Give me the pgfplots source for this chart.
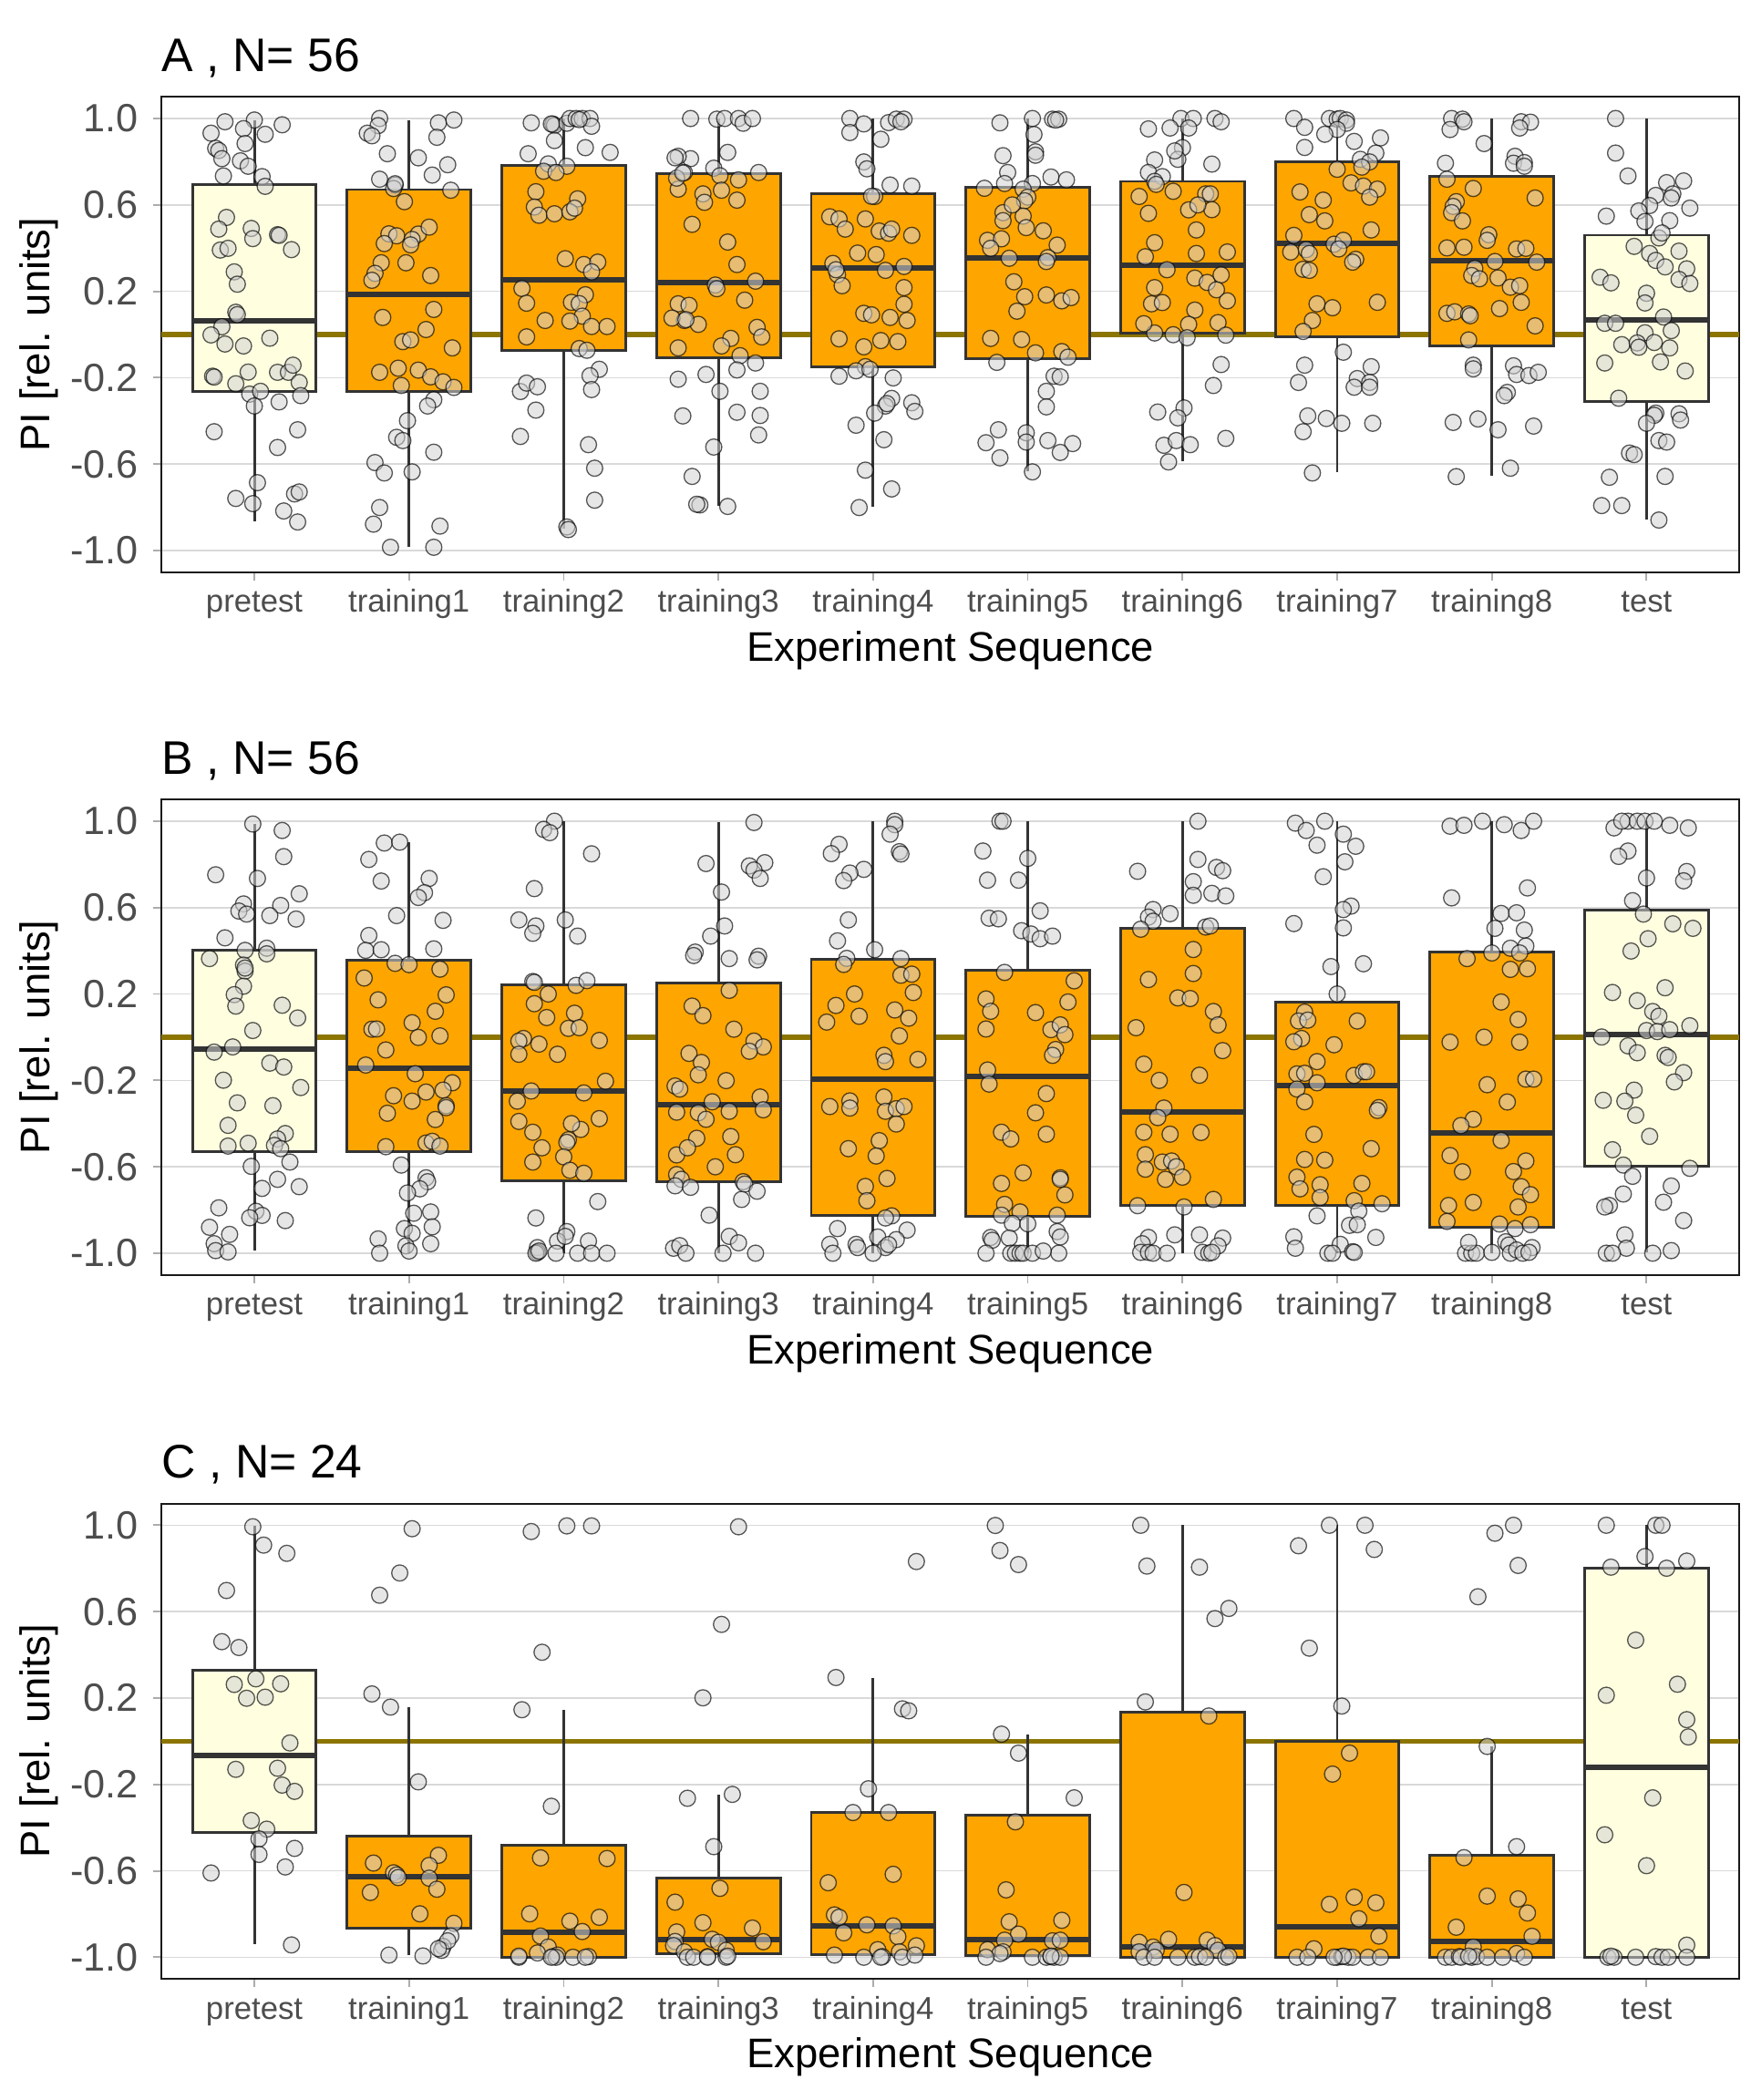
\documentclass[border=0pt]{standalone}
\usepackage{pgfplots}
\pgfplotsset{compat=1.18}
\usepackage{pgfplotstable}
\usepgfplotslibrary{statistics}
\usepackage{fontspec}
\setmainfont{Liberation Sans}
\definecolor{boxedge}{HTML}{333333}
\definecolor{ptfill}{RGB}{210,210,210}
\definecolor{trainc}{HTML}{FFA500}
\definecolor{prec}{HTML}{FFFFE0}
\definecolor{olivec}{RGB}{139,117,0}
\definecolor{tickc}{HTML}{4D4D4D}

\pgfplotstableread{
x y
-0.19 0.985
0.00 0.993
0.18 0.971
-0.28 0.932
-0.07 0.953
0.07 0.927
-0.06 0.884
-0.25 0.862
-0.23 0.852
-0.21 0.814
-0.09 0.804
-0.04 0.779
-0.20 0.734
0.05 0.731
0.07 0.686
-0.18 0.542
-0.23 0.488
-0.02 0.491
-0.01 0.444
0.15 0.462
0.16 0.459
0.24 0.393
-0.22 0.391
-0.17 0.399
-0.13 0.290
-0.11 0.233
-0.12 0.103
-0.11 0.092
-0.21 0.036
-0.28 -0.002
-0.19 -0.044
-0.07 -0.053
0.10 -0.017
-0.27 -0.193
-0.26 -0.197
-0.04 -0.174
-0.12 -0.228
0.15 -0.175
0.22 -0.175
0.25 -0.142
0.29 -0.222
-0.03 -0.276
0.04 -0.263
0.00 -0.331
0.16 -0.312
0.30 -0.283
-0.26 -0.450
0.28 -0.441
0.15 -0.523
0.02 -0.686
-0.12 -0.759
-0.01 -0.783
0.19 -0.817
0.26 -0.738
0.29 -0.729
0.28 -0.868
0.81 1.000
0.80 0.967
0.73 0.932
0.76 0.920
1.19 0.980
1.29 0.993
1.18 0.913
0.86 0.837
1.06 0.818
1.25 0.786
1.15 0.738
0.81 0.719
0.91 0.692
0.90 0.676
1.27 0.668
0.97 0.615
0.87 0.466
0.92 0.457
0.84 0.421
1.06 0.465
1.13 0.497
1.02 0.440
1.01 0.415
0.82 0.332
0.78 0.283
0.76 0.251
0.98 0.332
1.14 0.273
0.83 0.079
1.16 0.116
1.11 0.023
0.96 -0.033
1.01 -0.025
1.28 -0.062
0.81 -0.175
0.93 -0.156
1.06 -0.165
1.14 -0.196
1.22 -0.219
1.29 -0.245
0.95 -0.236
1.16 -0.302
1.12 -0.331
0.99 -0.399
0.92 -0.476
0.96 -0.491
1.16 -0.545
0.78 -0.593
0.84 -0.641
1.02 -0.636
0.81 -0.801
0.77 -0.878
1.20 -0.887
0.88 -0.985
1.16 -0.985
0.91 0.698
1.79 0.980
1.93 0.974
1.94 0.968
2.02 0.978
2.04 1.000
2.08 1.000
2.12 1.000
2.17 1.000
2.18 0.964
1.94 0.898
2.14 0.865
2.30 0.843
1.77 0.837
1.90 0.790
2.02 0.779
1.87 0.756
1.95 0.750
1.82 0.661
2.09 0.628
1.81 0.590
1.84 0.552
1.94 0.559
2.04 0.568
2.07 0.585
2.01 0.351
2.13 0.324
2.22 0.335
2.18 0.290
1.73 0.213
1.76 0.145
2.14 0.184
2.05 0.149
2.10 0.143
2.12 0.085
2.04 0.062
1.88 0.065
2.18 0.037
2.28 0.037
1.76 -0.011
2.10 -0.065
2.15 -0.073
2.23 -0.161
2.17 -0.191
2.18 -0.255
1.72 -0.264
1.76 -0.225
1.83 -0.242
1.82 -0.350
1.72 -0.472
2.16 -0.510
2.20 -0.619
2.20 -0.767
2.02 -0.891
2.03 -0.903
2.10 0.995
1.92 0.975
2.82 1.000
2.99 0.997
3.04 1.000
3.13 1.000
3.16 0.978
3.22 1.000
3.06 0.843
2.82 0.814
2.74 0.825
2.97 0.770
2.78 0.750
3.26 0.750
3.01 0.735
3.13 0.716
2.74 0.673
2.90 0.651
3.02 0.668
2.91 0.612
3.12 0.622
2.83 0.510
3.06 0.428
3.12 0.324
2.98 0.229
2.99 0.212
3.24 0.247
2.74 0.142
2.81 0.135
3.17 0.159
2.78 0.065
2.87 0.047
3.25 0.033
3.28 -0.011
3.08 -0.018
3.02 -0.053
2.74 -0.062
3.14 -0.098
3.12 -0.164
3.24 -0.132
2.92 -0.185
2.74 -0.207
3.01 -0.263
3.27 -0.263
3.12 -0.360
3.27 -0.375
2.77 -0.377
3.26 -0.465
2.97 -0.521
2.83 -0.657
2.88 -0.789
3.06 -0.796
2.73 0.724
2.70 0.076
2.79 0.069
2.77 0.748
2.86 -0.786
2.72 0.818
3.85 1.000
3.85 0.935
3.94 0.975
4.10 0.981
4.15 0.997
4.20 0.997
4.18 0.985
4.05 0.904
3.94 0.799
3.96 0.767
4.11 0.692
4.25 0.687
4.01 0.639
3.72 0.545
3.78 0.535
3.82 0.488
3.95 0.535
4.04 0.479
4.10 0.469
4.12 0.488
4.25 0.459
3.90 0.377
4.02 0.370
3.74 0.329
3.77 0.277
4.08 0.297
4.20 0.315
3.80 0.226
4.20 0.217
4.20 0.140
3.94 0.098
3.99 0.091
4.11 0.079
4.22 0.065
3.78 -0.020
3.94 -0.057
4.05 -0.028
4.16 -0.033
3.95 -0.149
3.89 -0.168
3.98 -0.161
3.78 -0.193
4.13 -0.201
4.12 -0.296
4.08 -0.331
4.25 -0.316
4.27 -0.356
4.01 -0.364
3.89 -0.420
4.07 -0.487
3.95 -0.628
4.12 -0.715
3.91 -0.801
3.99 0.640
4.09 -0.320
3.76 0.300
4.82 0.980
5.03 1.000
5.16 0.997
5.20 0.997
5.18 0.993
5.04 0.926
5.05 0.846
5.05 0.830
4.84 0.828
4.87 0.750
5.15 0.729
5.25 0.716
4.72 0.677
4.85 0.699
5.03 0.699
4.97 0.673
5.00 0.636
4.98 0.619
4.84 0.564
4.97 0.548
4.84 0.527
4.99 0.495
4.74 0.436
4.83 0.443
4.76 0.399
5.19 0.414
4.88 0.353
5.13 0.356
5.12 0.338
4.91 0.244
4.98 0.175
5.12 0.183
5.22 0.156
5.28 0.171
4.93 0.108
4.76 -0.018
4.96 -0.023
5.05 -0.085
5.22 -0.079
5.26 -0.105
4.80 -0.129
5.17 -0.193
5.21 -0.196
5.12 -0.263
5.12 -0.335
4.81 -0.441
4.99 -0.455
4.73 -0.501
4.99 -0.498
5.13 -0.491
5.29 -0.505
5.21 -0.546
4.82 -0.571
5.03 -0.636
4.90 0.600
5.10 0.480
5.99 1.000
6.07 1.000
6.04 0.956
5.92 0.956
5.78 0.952
6.00 0.865
5.97 0.811
5.82 0.808
5.78 0.750
5.87 0.731
5.82 0.709
5.83 0.695
5.94 0.663
5.72 0.639
6.15 0.651
5.78 0.561
6.04 0.577
6.09 0.484
5.82 0.425
6.09 0.375
5.76 0.360
6.08 0.261
6.16 0.241
5.82 0.217
5.80 0.142
5.87 0.148
6.08 0.113
6.04 0.047
5.82 0.007
5.94 -0.001
6.03 -0.015
5.84 -0.359
6.01 -0.340
5.97 -0.386
5.88 -0.513
5.96 -0.491
6.05 -0.510
5.91 -0.590
6.21 1.000
6.25 0.985
6.19 0.789
6.18 0.651
6.19 0.578
6.29 0.382
6.25 0.276
6.22 0.207
6.29 0.156
6.23 0.055
6.28 -0.003
6.25 -0.139
6.20 -0.236
6.28 -0.481
5.90 0.300
6.10 0.600
5.75 0.050
5.95 0.850
6.72 1.000
6.79 0.959
6.95 1.000
7.00 0.997
7.02 1.000
7.06 0.993
7.06 0.978
7.00 0.949
6.92 0.927
7.11 0.894
7.28 0.910
6.79 0.866
7.25 0.840
7.15 0.811
7.21 0.799
7.16 0.775
7.00 0.765
7.09 0.702
7.17 0.687
7.26 0.673
7.21 0.636
6.76 0.660
6.91 0.622
6.82 0.555
6.92 0.526
7.22 0.484
6.72 0.459
6.98 0.418
7.04 0.436
7.01 0.396
6.80 0.393
6.70 0.382
6.82 0.375
7.12 0.348
7.10 0.335
6.78 0.302
6.82 0.297
7.26 0.149
6.87 0.142
6.97 0.124
6.84 0.065
6.78 0.014
7.04 -0.082
6.79 -0.142
7.22 -0.149
6.75 -0.222
7.13 -0.204
7.11 -0.244
7.21 -0.222
7.21 -0.244
6.81 -0.377
6.78 -0.450
6.93 -0.389
7.03 -0.411
7.23 -0.411
6.84 -0.641
7.74 1.000
7.81 0.997
7.82 0.985
7.73 0.949
8.19 0.985
8.25 0.983
8.18 0.956
7.95 0.884
7.70 0.793
8.15 0.825
8.14 0.793
8.21 0.796
8.21 0.779
7.71 0.719
7.88 0.676
8.28 0.632
7.77 0.615
7.75 0.593
7.74 0.564
7.81 0.526
7.98 0.462
7.97 0.436
7.71 0.401
7.82 0.404
8.16 0.396
8.22 0.399
8.02 0.338
8.29 0.335
7.89 0.306
7.87 0.273
7.92 0.258
8.04 0.262
8.12 0.219
8.18 0.226
8.19 0.149
7.71 0.098
7.76 0.105
7.85 0.095
7.86 0.087
8.28 0.040
7.85 -0.025
7.88 -0.142
7.88 -0.159
8.14 -0.145
8.16 -0.185
8.24 -0.190
8.30 -0.175
8.10 -0.268
8.08 -0.283
7.75 -0.407
7.91 -0.391
8.04 -0.441
8.27 -0.424
8.12 -0.619
7.77 -0.658
8.05 0.120
8.80 1.000
8.80 0.840
8.88 0.734
9.13 0.703
9.24 0.711
9.06 0.644
9.17 0.651
9.16 0.632
9.02 0.597
8.95 0.572
9.28 0.585
8.74 0.548
8.99 0.523
9.15 0.527
9.08 0.447
8.92 0.408
9.02 0.375
9.06 0.343
9.21 0.386
9.12 0.313
9.26 0.304
9.21 0.255
9.28 0.236
8.70 0.265
8.77 0.239
9.00 0.191
8.99 0.146
8.73 0.052
8.80 0.052
9.11 0.081
9.16 0.018
8.99 0.008
8.84 -0.047
8.94 -0.039
8.95 -0.059
9.05 -0.037
9.15 -0.062
9.09 -0.127
8.73 -0.132
9.25 -0.169
8.82 -0.295
9.06 -0.364
9.05 -0.374
9.00 -0.411
9.21 -0.367
9.22 -0.396
9.08 -0.491
9.13 -0.498
8.89 -0.549
8.92 -0.556
8.76 -0.661
9.12 -0.657
8.71 -0.792
8.84 -0.792
9.08 -0.859
9.10 0.470
}\ptsA

\pgfplotstableread{
x y
-0.01 0.987
0.18 0.957
0.19 0.836
-0.25 0.752
0.02 0.735
0.29 0.664
-0.07 0.617
-0.10 0.584
-0.05 0.570
0.17 0.610
0.10 0.563
0.27 0.547
-0.19 0.460
0.08 0.412
0.08 0.386
-0.06 0.402
-0.29 0.364
-0.07 0.334
-0.06 0.306
-0.07 0.236
-0.13 0.197
-0.12 0.144
0.18 0.148
0.28 0.089
-0.01 0.031
-0.14 -0.045
-0.26 -0.069
0.10 -0.120
0.19 -0.138
-0.20 -0.199
0.30 -0.233
-0.11 -0.304
0.12 -0.317
-0.17 -0.408
0.20 -0.446
0.15 -0.471
0.13 -0.501
0.17 -0.516
-0.17 -0.504
-0.04 -0.491
0.23 -0.578
-0.02 -0.598
0.15 -0.658
0.29 -0.692
-0.23 -0.790
0.01 -0.806
0.05 -0.825
-0.03 -0.836
0.20 -0.849
-0.29 -0.880
-0.16 -0.913
-0.26 -0.956
-0.25 -0.988
-0.17 -0.994
-0.06 0.320
0.05 -0.700
0.84 0.899
0.94 0.903
0.74 0.823
0.82 0.723
1.13 0.735
1.10 0.669
1.06 0.647
0.92 0.563
1.22 0.541
0.74 0.471
0.72 0.402
0.82 0.405
1.16 0.409
0.91 0.342
1.00 0.336
1.20 0.315
0.71 0.274
0.80 0.173
1.24 0.196
1.17 0.120
1.02 0.067
0.76 0.037
0.79 0.038
1.06 -0.001
1.20 0.006
0.85 -0.059
0.72 -0.129
1.04 -0.169
1.28 -0.211
0.90 -0.271
1.11 -0.254
1.22 -0.245
1.02 -0.296
1.24 -0.317
1.24 -0.326
0.86 -0.352
1.17 -0.381
0.85 -0.507
1.11 -0.490
1.15 -0.482
1.20 -0.504
0.95 -0.592
1.11 -0.651
1.12 -0.669
1.07 -0.702
0.99 -0.721
1.03 -0.815
1.14 -0.809
1.15 -0.878
0.97 -0.886
1.02 -0.908
0.80 -0.934
1.14 -0.956
0.98 -0.966
0.81 -1.000
1.00 -0.990
1.94 1.000
1.87 0.962
1.91 0.947
2.18 0.849
1.81 0.688
1.71 0.543
1.82 0.515
1.80 0.481
2.01 0.543
2.09 0.468
1.80 0.258
1.81 0.254
2.08 0.240
2.15 0.262
1.81 0.155
1.89 0.091
2.07 0.111
2.03 0.041
2.10 0.044
1.74 -0.006
1.71 -0.018
1.84 -0.032
2.23 -0.015
1.71 -0.079
1.96 -0.079
2.27 -0.204
1.79 -0.249
2.13 -0.258
1.70 -0.296
1.71 -0.390
2.23 -0.377
1.80 -0.440
2.11 -0.427
2.03 -0.475
2.02 -0.487
1.86 -0.512
2.00 -0.554
1.80 -0.578
2.04 -0.616
2.13 -0.630
2.22 -0.761
1.82 -0.837
2.02 -0.900
1.96 -0.944
2.01 -0.922
2.16 -0.944
1.83 -0.974
1.83 -0.996
1.82 -1.000
1.95 -1.000
2.09 -1.000
2.18 -1.000
2.28 -1.000
1.84 -0.990
2.05 -0.400
1.90 0.200
2.72 -0.226
2.73 -0.347
2.73 -0.545
2.73 -0.636
2.76 -0.658
2.72 -0.688
2.82 -0.695
2.71 -0.977
2.75 -0.965
3.23 0.994
2.92 0.804
3.20 0.793
3.30 0.808
3.23 0.774
3.27 0.735
3.02 0.672
3.04 0.515
2.95 0.468
2.85 0.394
2.84 0.378
3.07 0.364
3.26 0.375
3.25 0.358
3.07 0.217
2.83 0.144
3.10 0.037
3.23 -0.018
3.29 -0.045
3.20 -0.065
2.81 -0.075
2.89 -0.117
2.87 -0.174
3.05 -0.201
2.75 -0.240
3.27 -0.277
2.96 -0.299
3.07 -0.343
3.29 -0.336
2.87 -0.350
2.92 -0.380
3.08 -0.460
2.86 -0.468
2.80 -0.512
3.11 -0.544
3.16 -0.669
3.17 -0.680
3.25 -0.713
3.15 -0.751
2.94 -0.824
3.07 -0.922
3.13 -0.952
3.03 -1.000
3.24 -1.000
2.79 -1.000
2.90 0.100
2.98 -0.600
4.14 1.000
4.14 0.984
4.11 0.940
4.17 0.859
4.18 0.848
3.78 0.893
3.73 0.850
3.94 0.777
3.85 0.760
3.81 0.725
3.84 0.543
3.77 0.446
4.01 0.405
3.83 0.365
3.81 0.337
4.18 0.364
4.18 0.287
4.25 0.292
4.26 0.207
3.76 0.147
3.91 0.097
3.70 0.070
4.14 0.126
4.23 0.088
4.17 0.006
4.07 -0.084
4.08 -0.113
4.29 -0.103
3.72 -0.321
3.85 -0.295
3.85 -0.328
4.07 -0.277
4.08 -0.343
4.15 -0.331
4.20 -0.321
4.15 -0.402
4.04 -0.479
3.84 -0.516
4.09 -0.654
3.95 -0.691
3.96 -0.757
4.12 -0.827
4.08 -0.837
3.77 -0.886
4.22 -0.893
4.03 -0.925
4.15 -0.937
3.72 -0.959
3.89 -0.959
3.90 -0.974
4.08 -0.974
3.74 -1.000
4.00 -1.000
4.10 -0.960
3.88 0.200
4.02 -0.550
4.82 1.000
4.84 1.000
4.71 0.862
5.00 0.828
4.74 0.727
4.94 0.727
5.08 0.585
4.75 0.551
4.81 0.548
4.96 0.493
5.02 0.478
5.08 0.456
5.16 0.468
5.30 0.261
4.73 0.177
4.76 0.120
5.26 0.163
5.05 0.114
4.73 0.038
5.15 0.035
5.21 0.057
5.24 0.012
5.18 -0.057
5.16 -0.084
4.74 -0.152
4.75 -0.217
5.12 -0.261
4.83 -0.440
4.89 -0.471
5.12 -0.449
4.97 -0.628
4.83 -0.677
5.21 -0.651
5.21 -0.658
5.24 -0.730
4.85 -0.774
4.95 -0.809
4.83 -0.824
5.19 -0.824
4.90 -0.862
5.00 -0.864
5.19 -0.900
5.21 -0.925
4.76 -0.927
4.77 -0.940
4.88 -0.930
4.73 -1.000
4.89 -1.000
4.92 -1.000
4.95 -1.000
4.97 -1.000
5.03 -1.000
5.20 -1.000
5.10 -0.990
4.85 0.300
5.05 -0.350
6.10 1.000
6.10 0.823
5.71 0.768
6.07 0.720
6.07 0.657
5.81 0.591
5.92 0.572
5.78 0.556
5.81 0.537
5.73 0.500
6.15 0.510
6.07 0.406
5.78 0.267
6.07 0.295
5.97 0.182
6.05 0.179
5.70 0.044
5.75 -0.125
6.11 -0.176
5.88 -0.328
5.84 -0.372
5.75 -0.440
5.92 -0.449
6.12 -0.441
5.76 -0.544
5.76 -0.611
5.87 -0.578
5.93 -0.573
5.96 -0.600
6.00 -0.648
5.89 -0.658
5.71 -0.780
6.01 -0.786
5.95 -0.915
6.11 -0.915
5.78 -0.927
5.74 -0.956
5.73 -0.996
5.78 -0.996
5.81 -1.000
5.90 -1.000
6.13 -0.996
6.17 -1.000
6.22 0.786
6.26 0.771
6.19 0.666
6.28 0.654
6.18 0.515
6.20 0.119
6.23 0.057
6.26 -0.062
6.20 -0.751
6.26 -0.930
6.23 -0.966
6.19 -0.996
5.85 -0.200
6.73 0.991
6.92 1.000
6.80 0.957
7.04 0.940
6.87 0.889
7.12 0.884
7.05 0.812
6.91 0.743
7.09 0.607
7.04 0.591
6.72 0.526
7.04 0.506
7.17 0.340
6.96 0.327
6.79 0.116
6.75 0.075
6.81 0.079
7.13 0.075
6.77 -0.006
6.72 -0.021
6.98 -0.035
6.87 -0.113
6.74 -0.170
6.79 -0.167
6.87 -0.211
7.11 -0.177
7.17 -0.160
7.19 -0.160
6.74 -0.240
6.79 -0.299
7.27 -0.326
7.26 -0.339
7.22 -0.516
6.79 -0.566
6.92 -0.569
6.74 -0.648
6.76 -0.702
6.89 -0.683
7.16 -0.677
6.89 -0.742
7.11 -0.757
7.29 -0.771
7.14 -0.805
6.87 -0.827
7.08 -0.871
7.13 -0.868
7.25 -0.927
6.72 -0.924
6.73 -0.977
7.02 -0.959
6.94 -1.000
6.97 -1.000
7.10 -0.993
7.11 -0.996
7.00 0.200
6.85 -0.450
7.73 0.977
7.82 0.981
7.94 1.000
8.08 0.984
8.19 0.957
8.27 1.000
8.23 0.691
7.74 0.645
8.06 0.573
8.16 0.576
8.02 0.504
8.21 0.496
8.12 0.412
8.22 0.422
8.00 0.390
8.18 0.390
7.84 0.364
8.12 0.314
8.23 0.317
8.06 0.163
8.17 0.082
7.73 -0.023
8.18 -0.023
7.97 -0.220
8.22 -0.194
8.27 -0.194
7.88 -0.380
7.80 -0.409
8.06 -0.478
7.73 -0.548
8.22 -0.573
7.81 -0.623
8.14 -0.622
8.19 -0.692
8.25 -0.729
7.72 -0.779
7.88 -0.765
8.17 -0.786
7.71 -0.853
8.05 -0.865
8.15 -0.886
8.25 -0.868
8.09 -0.947
8.11 -0.962
8.26 -0.974
7.83 -1.000
7.87 -1.000
7.90 -1.000
8.00 -0.996
8.12 -1.000
8.16 -0.985
8.20 -1.000
8.24 -0.996
7.95 0.000
8.10 -0.300
7.85 -0.950
8.79 0.969
8.88 1.000
8.94 1.000
8.99 1.000
9.05 1.000
9.15 0.981
9.27 0.969
8.88 0.862
8.82 0.837
9.00 0.737
9.26 0.767
9.24 0.724
8.91 0.632
8.98 0.570
9.17 0.525
9.30 0.504
9.01 0.456
8.90 0.399
8.78 0.207
9.12 0.229
8.94 0.169
9.04 0.119
9.08 0.097
9.28 0.053
9.00 0.031
9.07 0.026
9.15 0.035
8.71 0.001
8.88 -0.040
8.94 -0.072
9.12 -0.084
9.14 -0.094
9.24 -0.164
9.18 -0.207
8.92 -0.245
8.72 -0.292
8.86 -0.296
8.93 -0.361
9.02 -0.459
8.78 -0.521
8.85 -0.592
9.28 -0.607
8.91 -0.644
9.16 -0.689
8.85 -0.726
9.11 -0.764
8.76 -0.779
8.73 -0.786
9.24 -0.849
8.86 -0.915
8.87 -0.977
8.74 -1.000
8.78 -1.000
9.04 -1.000
9.16 -0.988
8.84 1.000
}\ptsB

\pgfplotstableread{
x y
-0.01 0.993
0.06 0.908
0.21 0.870
-0.18 0.698
-0.21 0.461
-0.10 0.434
-0.13 0.263
0.01 0.289
0.17 0.266
-0.05 0.199
0.07 0.204
0.23 -0.008
-0.12 -0.130
0.15 -0.125
0.18 -0.203
0.26 -0.232
-0.02 -0.367
0.08 -0.407
0.03 -0.452
0.03 -0.524
0.26 -0.496
0.20 -0.582
-0.28 -0.610
0.24 -0.943
1.02 0.984
0.94 0.779
0.81 0.676
0.76 0.219
0.88 0.158
1.06 -0.188
0.77 -0.564
1.19 -0.528
1.13 -0.575
0.90 -0.609
0.92 -0.619
0.93 -0.631
1.13 -0.634
0.75 -0.700
1.18 -0.685
1.07 -0.799
1.29 -0.843
1.27 -0.902
1.22 -0.950
1.21 -0.968
0.87 -0.990
1.09 -0.994
1.25 -0.924
1.19 -0.960
1.79 0.971
2.02 0.997
2.18 0.997
1.86 0.412
1.73 0.146
1.92 -0.301
1.85 -0.540
2.28 -0.543
1.78 -0.799
2.04 -0.833
2.23 -0.815
2.12 -0.881
1.85 -0.902
1.90 -0.953
1.83 -0.980
1.71 -1.000
1.71 -0.995
1.93 -0.997
1.96 -0.990
2.06 -1.000
2.16 -0.997
2.14 -1.000
1.95 -1.000
1.92 -1.000
3.13 0.993
3.02 0.541
2.90 0.201
2.80 -0.264
3.09 -0.246
2.97 -0.488
3.01 -0.681
2.72 -0.745
2.90 -0.840
3.22 -0.865
2.73 -0.883
3.29 -0.928
2.72 -0.927
2.96 -0.917
3.00 -0.931
2.71 -0.946
2.78 -0.975
3.05 -0.968
2.80 -1.000
2.84 -1.000
2.93 -0.997
3.05 -1.000
2.93 -1.000
3.06 -0.995
4.28 0.832
3.76 0.295
4.19 0.150
4.23 0.141
3.97 -0.220
3.87 -0.330
4.10 -0.330
3.71 -0.655
4.13 -0.616
3.75 -0.804
3.78 -0.815
3.96 -0.850
4.13 -0.855
3.81 -0.887
4.16 -0.905
4.28 -0.947
4.03 -0.965
4.17 -0.975
3.75 -0.990
3.94 -1.000
4.06 -0.997
4.05 -1.000
4.19 -1.000
4.27 -0.990
4.79 0.999
4.82 0.883
4.94 0.818
4.83 0.033
4.94 -0.055
5.30 -0.262
4.92 -0.373
4.86 -0.688
4.88 -0.836
5.22 -0.829
4.94 -0.893
4.85 -0.921
5.16 -0.924
5.21 -0.921
4.74 -0.965
4.84 -0.975
4.82 -0.983
4.73 -1.000
5.03 -1.000
5.12 -1.000
5.15 -0.997
5.17 -1.000
5.21 -1.000
5.15 -0.995
5.73 1.000
5.77 0.811
6.11 0.806
6.30 0.615
6.21 0.568
5.76 0.182
6.17 0.117
6.01 -0.700
5.72 -0.931
5.91 -0.917
6.16 -0.921
6.21 -0.946
5.81 -0.953
5.83 -0.968
5.72 -0.975
6.23 -0.968
5.75 -1.000
5.82 -1.000
5.97 -1.000
6.08 -1.000
6.11 -0.997
6.15 -1.000
6.28 -1.000
6.30 -0.995
6.95 1.000
7.18 1.000
6.75 0.905
7.24 0.888
6.82 0.431
7.03 0.163
7.08 -0.055
6.97 -0.152
7.11 -0.722
6.95 -0.755
7.25 -0.748
7.14 -0.822
7.27 -0.902
6.85 -0.961
6.74 -1.000
6.81 -1.000
7.00 -1.000
7.03 -0.997
7.07 -1.000
7.10 -1.000
7.20 -1.000
7.28 -1.000
7.04 -0.995
6.98 -1.000
8.14 1.000
8.02 0.963
8.17 0.814
7.91 0.669
7.97 -0.024
8.16 -0.488
7.82 -0.539
7.97 -0.717
8.17 -0.730
8.23 -0.795
7.77 -0.861
8.26 -0.903
7.88 -0.953
8.16 -0.983
7.70 -1.000
7.74 -1.000
7.79 -0.997
7.80 -1.000
7.87 -1.000
7.90 -0.997
7.97 -1.000
8.07 -1.000
8.21 -1.000
7.85 -0.995
8.74 1.000
9.06 1.000
9.10 1.000
8.99 0.855
9.26 0.834
8.77 0.806
9.13 0.801
8.93 0.468
8.74 0.213
9.20 0.264
9.26 0.100
9.27 0.020
9.04 -0.262
8.73 -0.433
9.00 -0.576
9.26 -0.944
8.75 -1.000
8.79 -1.000
8.93 -1.000
9.06 -0.997
9.10 -1.000
9.14 -1.000
9.26 -1.000
8.77 -0.995
}\ptsC

\newcommand{\bx}[7]{\addplot[boxplot prepared={draw position=#1, lower whisker=#2, lower quartile=#3, median=#4, upper quartile=#5, upper whisker=#6}, fill=#7, draw=boxedge, line width=0.8pt] coordinates {};}

\pgfplotsset{
  panel/.style={
    scale only axis, width=468.8pt, height=141.2pt,
    xmin=-0.6, xmax=9.6, ymin=-1.1, ymax=1.1,
    xtick={0,...,9},
    xticklabels={pretest,training1,training2,training3,training4,training5,training6,training7,training8,test},
    ytick={-1,-0.6,-0.2,0.2,0.6,1},
    yticklabels={-1.0,-0.6,-0.2,0.2,0.6,1.0},
    tick pos=left, tick align=outside, major tick length=2.5pt,
    every tick/.style={gray!65, line width=0.5pt},
    ymajorgrids, grid style={gray!30, line width=0.45pt},
    axis line style={black!90, line width=0.55pt},
    yticklabel style={font=\fontsize{11.7}{12}\selectfont, text=tickc, anchor=east, inner sep=0pt, xshift=-4.2pt},
    xticklabel style={font=\fontsize{9.4}{10}\selectfont, text=tickc, anchor=base, inner sep=0pt, yshift=-9.5pt},
    xlabel={Experiment Sequence},
    ylabel={PI [rel. units]},
    xlabel style={at={(axis description cs:0.5,-0.187)}, anchor=base, inner sep=0pt, font=\fontsize{12.3}{13}\selectfont},
    ylabel style={at={(axis description cs:-0.071,0.5)}, anchor=base, inner sep=0pt, font=\fontsize{12.3}{13}\selectfont},
    every axis title/.style={at={(axis description cs:0,1.0538)}, anchor=base west, inner sep=0pt, font=\fontsize{14}{15}\selectfont},
    boxplot/draw direction=y,
    boxplot/box extend=0.8,
    boxplot/whisker extend=0,
    boxplot/every median/.style={line width=1.6pt},
    boxplot/every whisker/.style={line width=0.8pt},
    ptstyle/.style={only marks, mark=*, mark size=2.4pt, mark options={fill=ptfill, fill opacity=0.55, draw=black, draw opacity=0.65, line width=0.35pt}},
  }
}

\begin{document}
\begin{tikzpicture}
\path[use as bounding box] (-48pt,0pt) rectangle (472pt,624pt);
% Panel A
\begin{axis}[panel, at={(0pt,454pt)}, anchor=south west, title={A , N= 56}]
\addplot[olivec, line width=1.5pt] coordinates {(-0.6,0) (9.6,0)};
\bx{0}{-0.865}{-0.263}{0.065}{0.696}{0.993}{prec}
\bx{1}{-0.983}{-0.263}{0.185}{0.671}{0.993}{trainc}
\bx{2}{-0.898}{-0.073}{0.252}{0.782}{1.0}{trainc}
\bx{3}{-0.792}{-0.108}{0.242}{0.745}{1.0}{trainc}
\bx{4}{-0.796}{-0.151}{0.308}{0.652}{1.0}{trainc}
\bx{5}{-0.633}{-0.113}{0.353}{0.680}{1.0}{trainc}
\bx{6}{-0.585}{0.007}{0.321}{0.709}{1.0}{trainc}
\bx{7}{-0.636}{-0.011}{0.421}{0.799}{1.0}{trainc}
\bx{8}{-0.654}{-0.053}{0.341}{0.734}{1.0}{trainc}
\bx{9}{-0.857}{-0.311}{0.068}{0.460}{1.0}{prec}
\addplot[ptstyle] table[x=x,y=y] {\ptsA};
\end{axis}
% Panel B
\begin{axis}[panel, at={(0pt,245.2pt)}, anchor=south west, title={B , N= 56}]
\addplot[olivec, line width=1.5pt] coordinates {(-0.6,0) (9.6,0)};
\bx{0}{-0.988}{-0.529}{-0.054}{0.402}{0.987}{prec}
\bx{1}{-1.0}{-0.529}{-0.145}{0.356}{0.903}{trainc}
\bx{2}{-1.0}{-0.666}{-0.248}{0.243}{1.0}{trainc}
\bx{3}{-1.0}{-0.669}{-0.314}{0.252}{0.994}{trainc}
\bx{4}{-1.0}{-0.824}{-0.196}{0.359}{1.0}{trainc}
\bx{5}{-1.0}{-0.831}{-0.182}{0.308}{1.0}{trainc}
\bx{6}{-1.0}{-0.780}{-0.348}{0.503}{1.0}{trainc}
\bx{7}{-1.0}{-0.780}{-0.223}{0.163}{1.0}{trainc}
\bx{8}{-1.0}{-0.881}{-0.443}{0.394}{1.0}{trainc}
\bx{9}{-0.996}{-0.597}{0.013}{0.588}{1.0}{prec}
\addplot[ptstyle] table[x=x,y=y] {\ptsB};
\end{axis}
% Panel C
\begin{axis}[panel, at={(0pt,36pt)}, anchor=south west, title={C , N= 24}]
\addplot[olivec, line width=1.5pt] coordinates {(-0.6,0) (9.6,0)};
\bx{0}{-0.938}{-0.421}{-0.065}{0.330}{0.996}{prec}
\bx{1}{-0.990}{-0.864}{-0.626}{-0.440}{0.159}{trainc}
\bx{2}{-1.0}{-1.0}{-0.886}{-0.480}{0.146}{trainc}
\bx{3}{-1.0}{-0.982}{-0.917}{-0.632}{-0.247}{trainc}
\bx{4}{-1.0}{-0.987}{-0.856}{-0.330}{0.294}{trainc}
\bx{5}{-1.0}{-0.994}{-0.919}{-0.342}{0.031}{trainc}
\bx{6}{-1.0}{-1.0}{-0.953}{0.134}{1.0}{trainc}
\bx{7}{-1.0}{-1.0}{-0.861}{0.0}{1.0}{trainc}
\bx{8}{-1.0}{-1.0}{-0.928}{-0.527}{-0.024}{trainc}
\bx{9}{-1.0}{-1.0}{-0.121}{0.801}{1.0}{prec}
\addplot[ptstyle] table[x=x,y=y] {\ptsC};
\end{axis}
\end{tikzpicture}
\end{document}
